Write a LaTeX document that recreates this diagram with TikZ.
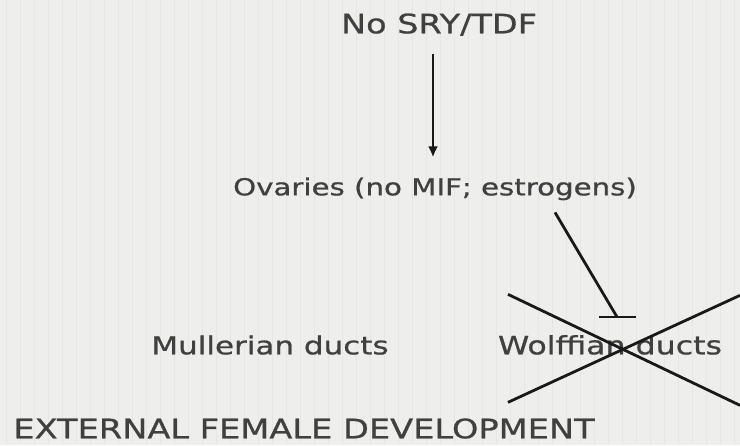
\documentclass[tikz,border=0pt]{standalone}
\usepackage{fontspec}
\usetikzlibrary{arrows.meta,calc}
\newfontfamily\hand[FakeStretch=1.25,FakeBold=0.8]{DejaVu Sans}
\definecolor{paper}{HTML}{EEEFEC}
\definecolor{paperline}{HTML}{E6E7E4}
\definecolor{ink}{HTML}{404040}
\begin{document}
\begin{tikzpicture}[x=1pt,y=-1pt,
  label/.style={text=ink,inner sep=0pt,anchor=base},
  link/.style={line width=2.8pt,black!90},
  leadsto/.style={link,-{Latex[length=11pt,width=10pt]}},
  crossout/.style={line width=2.8pt,black!90}]
  % paper
  \fill[paper] (0,0) rectangle (740,445);
  \foreach \gx in {6,20,...,740} \draw[paperline,line width=0.7pt] (\gx,0) -- (\gx,445);
  \useasboundingbox (0,0) rectangle (740,445);

  % labels
  \node[label,font=\hand\fontsize{26.8}{30}\selectfont] (top) at (439,33) {No SRY/TDF};
  \node[label,font=\hand\fontsize{23.4}{28}\selectfont] (ov) at (435,195) {Ovaries (no MIF; estrogens)};
  \node[label,font=\hand\fontsize{24.8}{28}\selectfont] (mull) at (270,354) {Mullerian ducts};
  \node[label,font=\hand\fontsize{25.3}{28}\selectfont] (wolf) at (610,354) {Wolffian ducts};
  \node[label,font=\hand\fontsize{26.9}{30}\selectfont] (ext) at (304,438) {EXTERNAL FEMALE DEVELOPMENT};

  % stimulation: no SRY/TDF gives ovaries
  \draw[leadsto] ($(top.base)+(-6,21)$) -- ($(ov.north)+(-2,-20)$);

  % inhibition of the Wolffian ducts, ending in a flat bar
  \coordinate (stop) at ($(wolf.north)+(7,-18)$);
  \draw[link] ($(ov.south)+(120,12)$) -- (stop);
  \draw[link] ($(stop)+(-18.5,0)$) -- ($(stop)+(18.5,0)$);

  % Wolffian ducts crossed out
  \draw[crossout] (508,294) -- (740,405);
  \draw[crossout] (508,402) -- (740,295);
\end{tikzpicture}
\end{document}
